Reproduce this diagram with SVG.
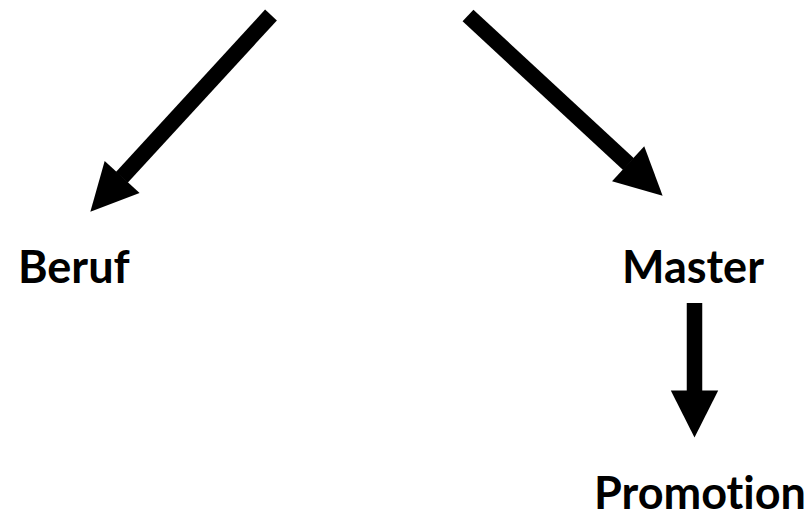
<svg xmlns="http://www.w3.org/2000/svg" width="809" height="511" viewBox="0 0 809 511">
  <defs>
    <marker id="head" markerUnits="userSpaceOnUse" markerWidth="48" markerHeight="48" viewBox="0 0 48 48" refX="0.5" refY="23.7" orient="auto" overflow="visible">
      <path d="M0,0 L47,23.7 L0,47.4 Z" fill="#000"/>
    </marker>
    <style>
      .lbl { font-family: Lato, "Liberation Sans", sans-serif; font-weight: bold; font-size: 45px; fill: #000; font-variant-ligatures: none; font-feature-settings: "liga" 0; }
      .conn { stroke: #000; stroke-width: 16; stroke-linecap: butt; fill: none; marker-end: url(#head); }
    </style>
  </defs>
  <rect width="809" height="511" fill="#fff"/>
  <g id="connectors">
    <line class="conn" x1="271" y1="15" x2="121.8" y2="177.4"/>
    <line class="conn" x1="468" y1="15.5" x2="628.5" y2="164.1"/>
    <line class="conn" x1="694.5" y1="303" x2="694.5" y2="391" style="stroke-width:15.5"/>
  </g>
  <g id="beruf"><text class="lbl" x="18" y="283">Beruf</text></g>
  <g id="master"><text class="lbl" x="622" y="283">Master</text></g>
  <g id="promotion"><text class="lbl" x="594" y="509">Promotion</text></g>
</svg>
